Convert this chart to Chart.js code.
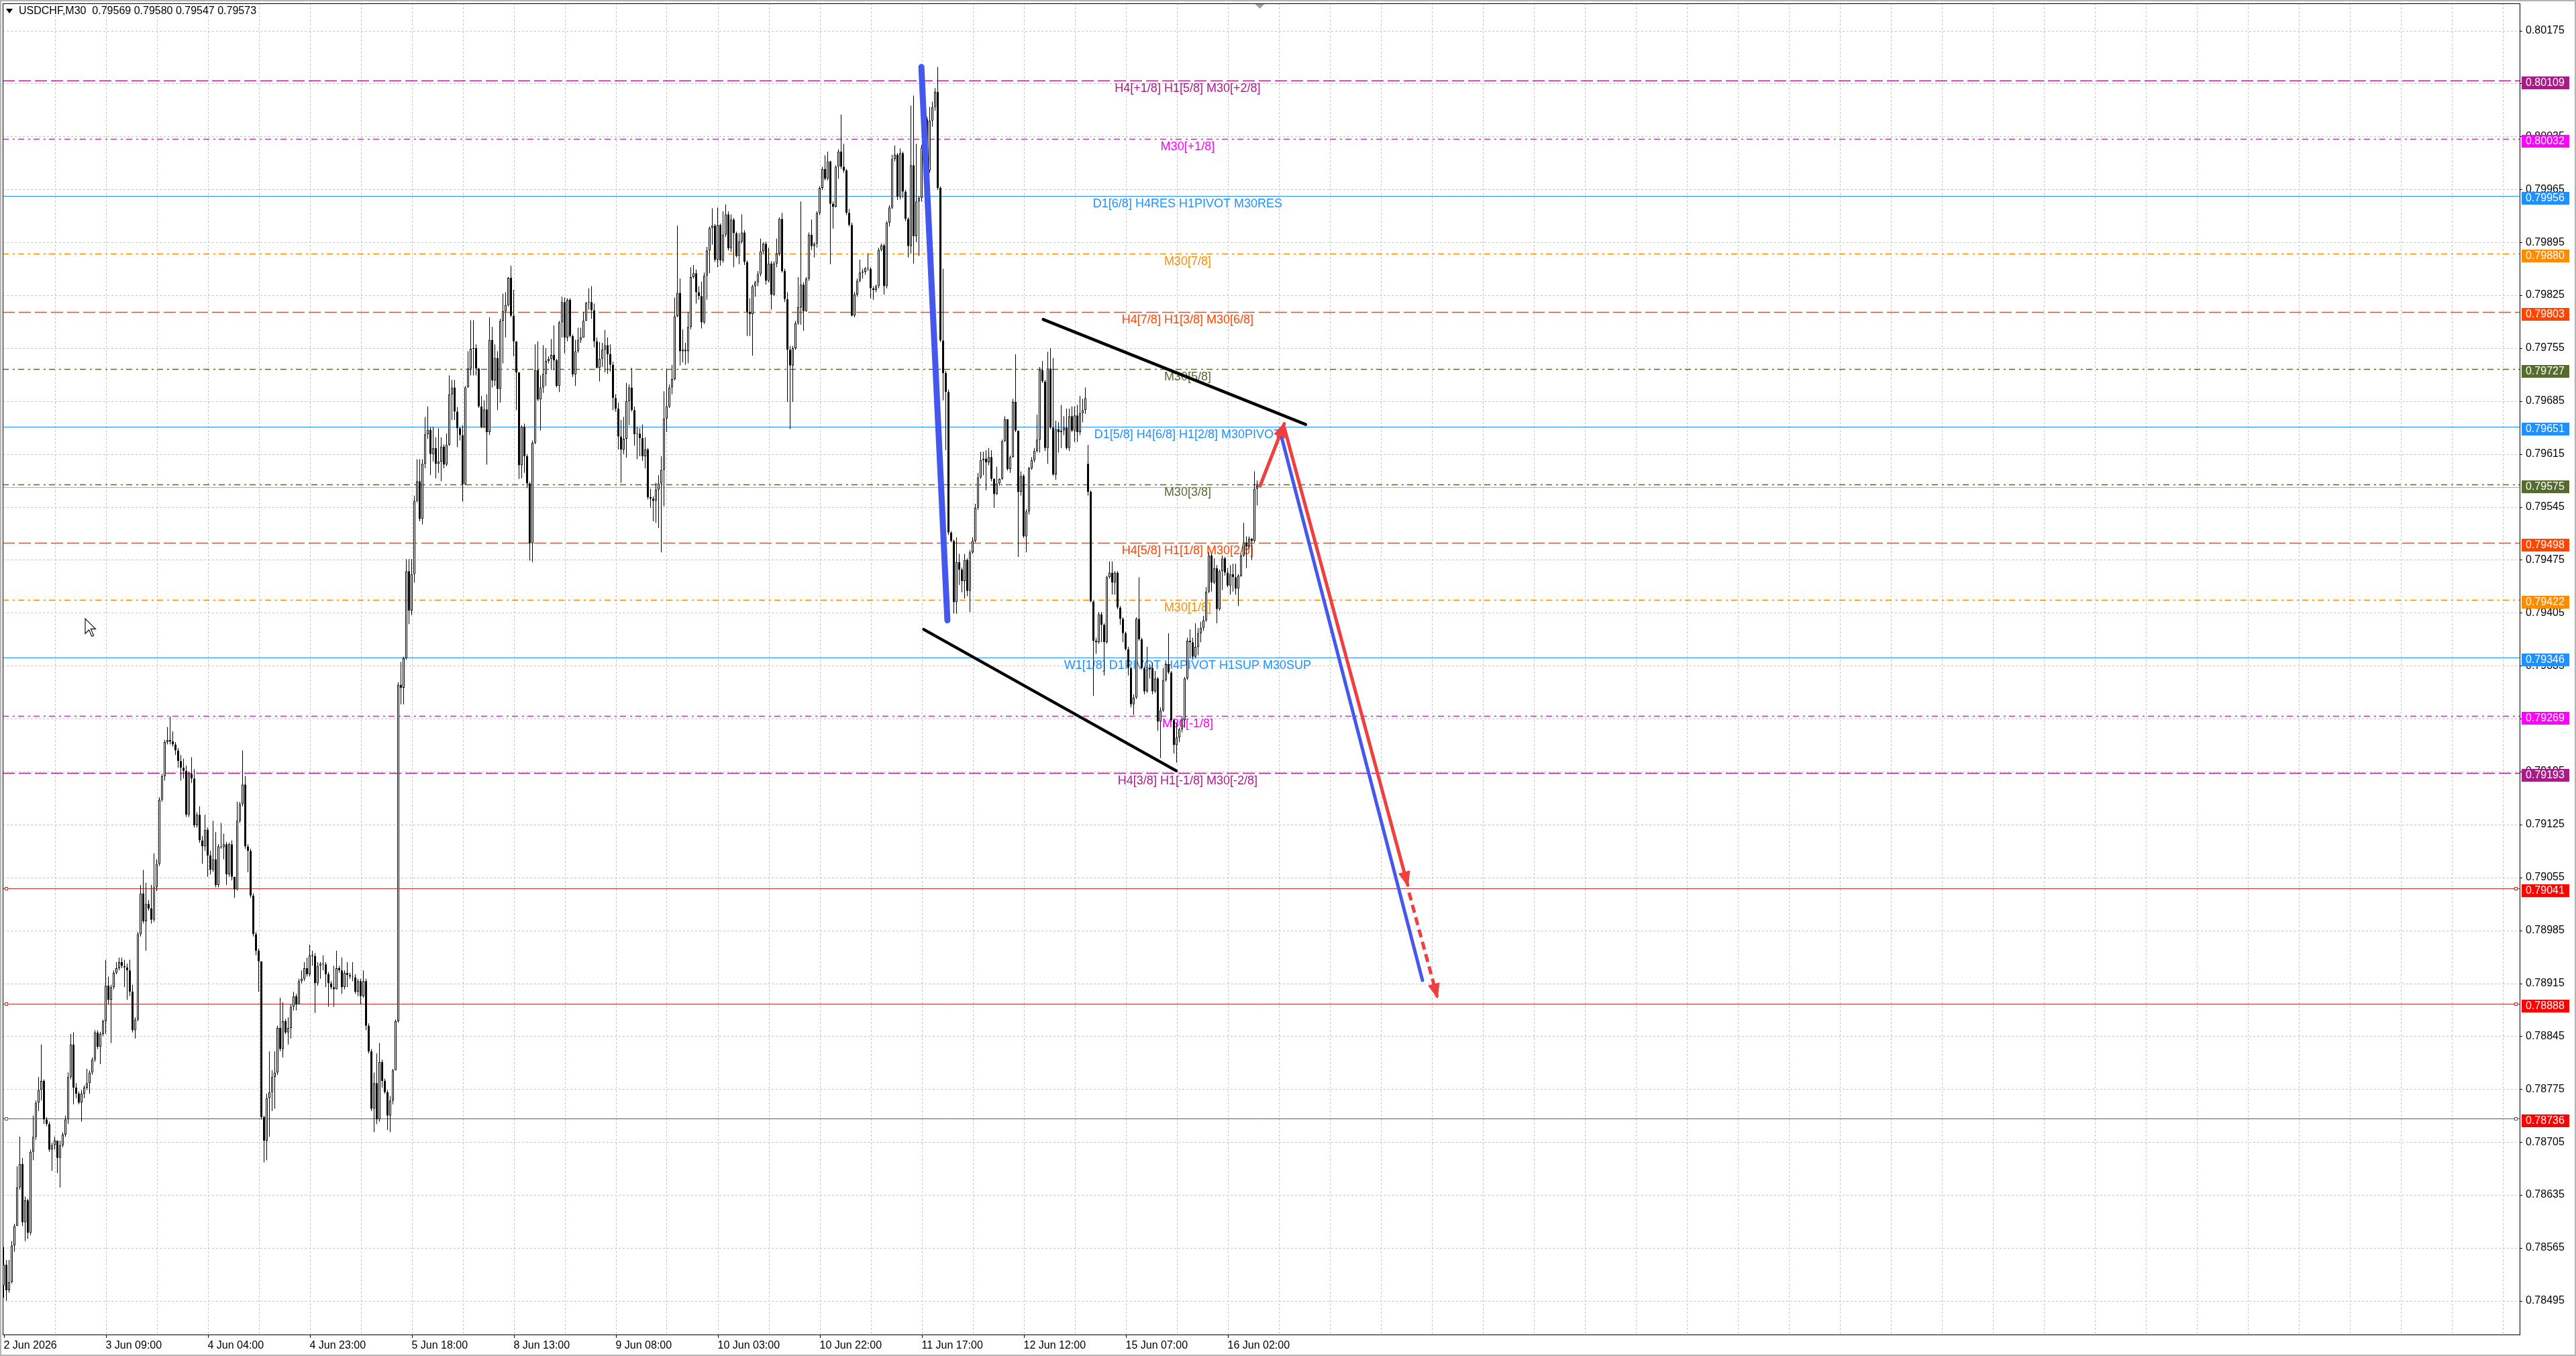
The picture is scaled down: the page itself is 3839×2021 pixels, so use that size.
<!DOCTYPE html>
<html>
<head>
<meta charset="utf-8">
<title>USDCHF,M30</title>
<script src="https://cdn.jsdelivr.net/npm/chart.js@4.4.1/dist/chart.umd.min.js"></script>
<style>
  html, body { margin: 0; padding: 0; background: #fff; overflow: hidden; }
  #chart { display: block; }
</style>
</head>
<body>
<canvas id="chart" width="3839" height="2021"></canvas>
<script>
// M30 bars, prices in points (1 point = 0.00001)
const open = [
78515,78543,78509,78520,78568,78594,78645,78676,78599,78628,
78585,78692,78712,78757,78774,78786,78735,78729,78695,78701,
78707,78684,78701,78715,78735,78791,78834,78777,78769,78757,
78769,78777,78783,78797,78814,78850,78831,78848,78865,78912,
78893,78910,78929,78935,78943,78938,78936,78932,78904,78853,
78867,78980,79034,78997,79020,79014,78999,79042,79073,79158,
79189,79234,79237,79235,79231,79223,79209,79200,79196,79138,
79192,79186,79124,79138,79104,79096,79118,79084,79065,79079,
79045,79096,79095,79099,79059,79099,79056,79039,79130,79152,
79178,79096,79090,79031,78980,78958,78944,78738,78707,78763,
78771,78791,78797,78856,78828,78865,78850,78856,78884,78898,
78887,78918,78921,78935,78927,78952,78951,78915,78938,78941,
78940,78927,78915,78910,78907,78935,78932,78910,78929,78926,
78924,78923,78904,78918,78898,78918,78859,78825,78749,78783,
78735,78811,78786,78771,78740,78760,78800,78865,79310,79306,
79345,79460,79408,79456,79553,79579,79529,79602,79641,79647,
79615,79623,79602,79605,79625,79601,79627,79694,79703,79671,
79649,79640,79575,79703,79728,79754,79755,79728,79678,79650,
79674,79644,79766,79712,79742,79701,79791,79804,79812,79848,
79798,79764,79723,79600,79651,79612,79576,79497,79630,79726,
79687,79703,79721,79738,79741,79746,79739,79705,79789,79816,
79769,79819,79771,79720,79751,79766,79769,79791,79815,79816,
79805,79764,79729,79741,79753,79759,79747,79733,79689,79675,
79638,79621,79635,79685,79703,79673,79641,79642,79636,79612,
79621,79558,79556,79553,79568,79576,79594,79662,79678,79703,
79714,79797,79828,79751,79753,79751,79783,79849,79854,79829,
79824,79789,79851,79884,79914,79917,79872,79918,79871,79905,
79932,79887,79925,79907,79877,79896,79908,79869,79803,79800,
79837,79842,79853,79883,79893,79844,79867,79826,79867,79880,
79926,79857,79820,79753,79732,79755,79788,79809,79839,79804,
79847,79905,79890,79893,79934,79967,79992,79979,80002,79946,
79942,79995,80015,79995,79990,79934,79918,79798,79826,79844,
79855,79856,79861,79860,79834,79832,79837,79885,79891,79837,
79921,79941,80005,80011,79955,80013,79962,79926,79890,79997,
79903,79949,79954,80020,80058,79990,80056,80074,80094,79967,
79765,79722,79697,79511,79500,79419,79472,79462,79447,79475,
79434,79485,79500,79544,79584,79607,79609,79604,79611,79582,
79562,79576,79582,79632,79661,79595,79611,79684,79646,79565,
79586,79506,79539,79596,79607,79619,79634,79726,79711,79623,
79728,79650,79588,79648,79644,79646,79650,79623,79665,79646,
79666,79644,79669,79673,79602,79565,79420,79368,79366,79403,
79389,79366,79452,79458,79445,79458,79412,79397,79378,79357,
79332,79284,79293,79397,79370,79332,79301,79330,79332,79301,
79318,79261,79276,79316,79337,79326,79263,79230,79240,79251,
79263,79318,79368,79366,79347,79360,79378,79385,79395,79433,
79481,79445,79464,79410,79460,79477,79458,79441,79456,79452,
79437,79454,79481,79498,79493,79503,79500,79569];

const high = [
78566,78549,78549,78574,78597,78673,78712,78684,78633,78630,
78695,78740,78760,78791,78834,78788,78738,78732,78704,78712,
78707,78707,78718,78740,78797,78848,78850,78783,78772,78774,
78780,78802,78800,78817,78853,78853,78851,78867,78946,78924,
78913,78932,78943,78949,78949,78946,78941,78946,78913,78870,
78983,79045,79065,79048,79025,79045,79087,79079,79161,79192,
79237,79254,79268,79248,79234,79226,79217,79212,79203,79195,
79214,79198,79141,79149,79110,79138,79121,79090,79130,79115,
79099,79127,79113,79102,79101,79104,79056,79155,79155,79223,
79189,79099,79093,79034,78983,78961,78944,78740,78769,78825,
78800,78825,78859,78896,78890,78868,78870,78887,78904,78901,
78921,78932,78943,78949,78966,78958,78955,78943,78943,78952,
78943,78930,78918,78938,78958,78938,78949,78932,78943,78929,
78943,78927,78921,78921,78932,78921,78862,78828,78797,78822,
78836,78814,78789,78774,78766,78802,78867,79313,79340,79347,
79476,79476,79476,79560,79608,79608,79608,79664,79678,79651,
79651,79637,79649,79637,79628,79642,79719,79713,79713,79677,
79651,79653,79705,79751,79792,79792,79760,79729,79692,79686,
79694,79796,79783,79760,79751,79794,79827,79829,79849,79864,
79832,79764,79723,79653,79655,79615,79578,79633,79760,79764,
79719,79759,79755,79744,79767,79785,79741,79791,79823,79822,
79821,79821,79773,79766,79782,79782,79803,79816,79834,79837,
79814,79769,79763,79762,79779,79769,79760,79737,79694,79683,
79660,79664,79709,79707,79729,79678,79651,79649,79654,79637,
79623,79569,79559,79577,79587,79612,79698,79728,79707,79733,
79822,79917,79847,79780,79762,79803,79862,79865,79859,79837,
79843,79855,79889,79916,79940,79919,79941,79920,79936,79945,
79936,79932,79927,79909,79907,79932,79911,79871,79821,79839,
79844,79857,79900,79895,79896,79888,79870,79870,79900,79928,
79934,79860,79829,79758,79758,79791,79849,79949,79842,79849,
79908,79925,79895,79936,79969,79995,80010,80015,80003,79949,
79997,80018,80064,80025,79992,79939,79921,79829,79847,79872,
79860,79862,79880,79862,79837,79839,79888,79893,79893,79923,
79944,80011,80023,80013,80019,80015,79964,79928,80076,80089,
80025,79956,80024,80061,80061,80074,80081,80099,80127,79969,
79860,79725,79700,79513,79502,79505,79483,79465,79483,79477,
79488,79505,79549,79590,79618,79618,79620,79623,79620,79583,
79598,79583,79634,79665,79661,79613,79688,79747,79646,79592,
79588,79542,79598,79611,79623,79667,79730,79738,79713,79750,
79755,79742,79659,79657,79680,79665,79675,79675,79678,79678,
79680,79692,79688,79703,79627,79567,79421,79372,79406,79406,
79391,79454,79473,79473,79460,79460,79414,79399,79380,79360,
79334,79297,79399,79452,79372,79334,79360,79337,79339,79328,
79320,79280,79332,79339,79378,79328,79265,79259,79253,79268,
79320,79372,79383,79372,79391,79385,79393,79401,79439,79485,
79483,79477,79468,79462,79481,79479,79464,79468,79470,79470,
79456,79483,79524,79506,79506,79504,79592,79580];

const low = [
78499,78495,78506,78518,78560,78594,78642,78594,78574,78577,
78582,78681,78708,78746,78760,78729,78726,78692,78667,78695,
78664,78645,78698,78712,78729,78788,78755,78763,78755,78732,
78763,78774,78769,78794,78811,78828,78808,78845,78848,78887,
78836,78907,78927,78932,78935,78910,78893,78898,78850,78842,
78865,78977,78994,78958,79011,78994,78996,79037,79070,79155,
79183,79231,79231,79228,79217,79200,79183,79186,79135,79135,
79180,79121,79121,79101,79073,79090,79056,79059,79062,79042,
79042,79093,79079,79045,79056,79051,79028,79038,79127,79149,
79093,79062,79028,78977,78952,78904,78735,78678,78681,78712,
78746,78749,78794,78825,78817,78848,78834,78842,78879,78879,
78887,78915,78918,78924,78924,78938,78876,78912,78921,78932,
78910,78884,78907,78884,78907,78929,78901,78907,78910,78921,
78918,78901,78898,78887,78896,78853,78822,78746,78718,78729,
78732,78777,78769,78721,78718,78755,78800,78863,79284,79284,
79343,79390,79402,79445,79551,79526,79522,79596,79635,79587,
79605,79583,79590,79579,79596,79599,79626,79660,79660,79624,
79633,79552,79574,79703,79719,79719,79719,79676,79649,79649,
79601,79640,79703,79705,79673,79683,79735,79769,79810,79796,
79744,79673,79582,79583,79590,79570,79474,79472,79628,79685,
79646,79696,79705,79735,79726,79726,79703,79697,79769,79748,
79764,79769,79717,79705,79749,79762,79769,79791,79806,79794,
79756,79728,79711,79730,79723,79721,79724,79673,79671,79621,
79577,79615,79610,79653,79671,79626,79608,79612,79606,79596,
79555,79544,79526,79524,79517,79485,79546,79644,79676,79694,
79712,79796,79732,79736,79733,79735,79780,79847,79814,79819,
79781,79787,79819,79854,79892,79869,79862,79864,79868,79902,
79884,79882,79862,79875,79866,79893,79865,79771,79771,79745,
79823,79837,79850,79880,79839,79842,79806,79824,79862,79877,
79855,79816,79684,79648,79684,79753,79786,79786,79778,79803,
79844,79885,79875,79888,79931,79964,79977,79977,79866,79913,
79941,79979,79992,79987,79931,79916,79797,79796,79823,79842,
79847,79852,79857,79821,79819,79829,79834,79883,79826,79834,
79916,79939,80002,79951,79952,79954,79923,79875,79880,79867,
79895,79877,79949,80018,79987,79987,80048,80069,79964,79763,
79686,79620,79508,79498,79404,79404,79442,79432,79424,79427,
79406,79483,79498,79541,79582,79587,79567,79600,79579,79544,
79561,79573,79581,79631,79593,79590,79610,79644,79479,79560,
79504,79485,79535,79594,79604,79617,79617,79709,79619,79602,
79648,79586,79581,79617,79623,79640,79621,79619,79644,79631,
79631,79640,79657,79668,79560,79419,79295,79351,79364,79366,
79322,79364,79450,79429,79429,79410,79389,79366,79355,79322,
79280,79270,79291,79368,79330,79297,79299,79318,79297,79299,
79249,79213,79274,79314,79324,79261,79219,79207,79234,79247,
79253,79316,79345,79343,79345,79349,79366,79381,79393,79431,
79433,79443,79391,79408,79435,79454,79439,79429,79433,79429,
79414,79452,79479,79464,79489,79475,79498,79547];

const close = [
78543,78509,78520,78568,78594,78645,78676,78599,78628,78585,
78692,78712,78757,78774,78786,78735,78729,78695,78701,78707,
78684,78701,78715,78735,78791,78834,78777,78769,78757,78769,
78777,78783,78797,78814,78850,78831,78848,78865,78912,78893,
78910,78929,78935,78943,78938,78936,78932,78904,78853,78867,
78980,79034,78997,79020,79014,78999,79042,79073,79158,79189,
79234,79237,79235,79231,79223,79209,79200,79196,79138,79192,
79186,79124,79138,79104,79096,79118,79084,79065,79079,79045,
79096,79095,79099,79059,79099,79056,79039,79130,79152,79178,
79096,79090,79031,78980,78958,78944,78738,78707,78763,78771,
78791,78797,78856,78828,78865,78850,78856,78884,78898,78887,
78918,78921,78935,78927,78952,78951,78915,78938,78941,78940,
78927,78915,78910,78907,78935,78932,78910,78929,78926,78924,
78923,78904,78918,78898,78918,78859,78825,78749,78783,78735,
78811,78786,78771,78740,78760,78800,78865,79310,79306,79345,
79460,79408,79456,79553,79579,79529,79602,79641,79647,79615,
79623,79602,79605,79625,79601,79627,79694,79703,79671,79649,
79640,79575,79703,79728,79754,79755,79728,79678,79650,79674,
79644,79766,79712,79742,79701,79791,79804,79812,79848,79798,
79764,79723,79600,79651,79612,79576,79497,79630,79726,79687,
79703,79721,79738,79741,79746,79739,79705,79789,79816,79769,
79819,79771,79720,79751,79766,79769,79791,79815,79816,79805,
79764,79729,79741,79753,79759,79747,79733,79689,79675,79638,
79621,79635,79685,79703,79673,79641,79642,79636,79612,79621,
79558,79556,79553,79568,79576,79594,79662,79678,79703,79714,
79797,79828,79751,79753,79751,79783,79849,79854,79829,79824,
79789,79851,79884,79914,79917,79872,79918,79871,79905,79932,
79887,79925,79907,79877,79896,79908,79869,79803,79800,79837,
79842,79853,79883,79893,79844,79867,79826,79867,79880,79926,
79857,79820,79753,79732,79755,79788,79809,79839,79804,79847,
79905,79890,79893,79934,79967,79992,79979,80002,79946,79942,
79995,80015,79995,79990,79934,79918,79798,79826,79844,79855,
79856,79861,79860,79834,79832,79837,79885,79891,79837,79921,
79941,80005,80011,79955,80013,79962,79926,79890,79997,79903,
79949,79954,80020,80058,79990,80056,80074,80094,79967,79765,
79722,79697,79511,79500,79419,79472,79462,79447,79475,79434,
79485,79500,79544,79584,79607,79609,79604,79611,79582,79562,
79576,79582,79632,79661,79595,79611,79684,79646,79565,79586,
79506,79539,79596,79607,79619,79634,79726,79711,79623,79728,
79650,79588,79648,79644,79646,79650,79623,79665,79646,79666,
79644,79669,79673,79689,79565,79420,79368,79366,79403,79389,
79366,79452,79458,79445,79458,79412,79397,79378,79357,79332,
79284,79293,79397,79370,79332,79301,79330,79332,79301,79318,
79261,79276,79316,79337,79326,79263,79230,79240,79251,79263,
79318,79368,79366,79347,79360,79378,79385,79395,79433,79481,
79445,79464,79410,79460,79477,79458,79441,79456,79452,79437,
79454,79481,79498,79493,79503,79500,79569,79573];

const symbol = 'USDCHF,M30';
const timeLabels = ['2 Jun 2026', '3 Jun 09:00', '4 Jun 04:00', '4 Jun 23:00', '5 Jun 18:00',
  '8 Jun 13:00', '9 Jun 08:00', '10 Jun 03:00', '10 Jun 22:00', '11 Jun 17:00',
  '12 Jun 12:00', '15 Jun 07:00', '16 Jun 02:00'];
const barsPerLabel = 38;
const yTickLabels = ['0.78495', '0.78565', '0.78635', '0.78705', '0.78775', '0.78845', '0.78915',
  '0.78985', '0.79055', '0.79125', '0.79195', '0.79265', '0.79335', '0.79405', '0.79475',
  '0.79545', '0.79615', '0.79685', '0.79755', '0.79825', '0.79895', '0.79965', '0.80035',
  '0.80105', '0.80175'];

// Murrey math levels
const levelPrices = [0.80109, 0.80032, 0.79956, 0.79880, 0.79803, 0.79727, 0.79651, 0.79575,
  0.79498, 0.79422, 0.79346, 0.79269, 0.79193, 0.79041, 0.78888, 0.78736];
const levelNames = ['H4[+1/8] H1[5/8] M30[+2/8]', 'M30[+1/8]', 'D1[6/8] H4RES H1PIVOT M30RES',
  'M30[7/8]', 'H4[7/8] H1[3/8] M30[6/8]', 'M30[5/8]', 'D1[5/8] H4[6/8] H1[2/8] M30PIVOT',
  'M30[3/8]', 'H4[5/8] H1[1/8] M30[2/8]', 'M30[1/8]', 'W1[1/8] D1PIVOT H4PIVOT H1SUP M30SUP',
  'M30[-1/8]', 'H4[3/8] H1[-1/8] M30[-2/8]', '', '', ''];
const bidPrice = 0.79573;

// hand drawn objects, [bar, price]
const dropLine = [[341.9, 0.80127], [351.6, 0.79395]];
const wedgeLow = [[342.8, 0.79383], [436.9, 0.79196]];
const wedgeHigh = [[387.3, 0.79793], [485.1, 0.79654]];
const blueTarget = [[475.4, 0.79647], [528.6, 0.78919]];
const redUp = [[468.1, 0.79573], [477.1, 0.79655]];
const redDown = [[477.1, 0.79650], [523.1, 0.79045]];
const redDash = [[523.6, 0.79035], [534.1, 0.78897]];

// styles
const DASH = [18, 6], DASHDOT = [9, 6, 3, 5], SOLID = [];
const levelColors = ['#a81c88', '#ff00ff', '#1e90ff', '#ff8c00', '#ff4500', '#556b2f', '#1e90ff',
  '#556b2f', '#ff4500', '#ff8c00', '#1e90ff', '#ff00ff', '#a81c88', '#ff0000', '#ff0000', '#ff0000'];
const levelDash = [DASH, DASHDOT, SOLID, DASHDOT, DASH, DASHDOT, SOLID, DASHDOT, DASH, DASHDOT,
  SOLID, DASHDOT, DASH, SOLID, SOLID, SOLID];
const labelBar = 441.1;
const gridStep = 19;
const axisFont = { family: 'Liberation Sans', size: 16 };
const BLUE = '#4458ee', RED = '#f03f3f';

const toXY = pts => pts.map(([x, y]) => ({ x, y }));
const fmt = v => (v / 1e5).toFixed(5);
const last = close.length - 1;

function seg(ctx, x0, y0, x1, y1) {
  ctx.beginPath(); ctx.moveTo(x0, y0); ctx.lineTo(x1, y1); ctx.stroke();
}

function arrowHead(ctx, a, b, color) {
  const ang = Math.atan2(b.y - a.y, b.x - a.x);
  ctx.save();
  ctx.translate(b.x, b.y);
  ctx.rotate(ang);
  ctx.beginPath();
  ctx.moveTo(3, 0); ctx.lineTo(-20, -9); ctx.lineTo(-20, 9); ctx.closePath();
  ctx.fillStyle = color; ctx.fill();
  ctx.restore();
}

const mt4 = {
  id: 'mt4',
  beforeDraw(chart) {
    const { ctx, width, height } = chart;
    ctx.save();
    ctx.fillStyle = '#fff'; ctx.fillRect(0, 0, width, height);
    ctx.strokeStyle = '#b4b4b4'; ctx.lineWidth = 2;
    ctx.strokeRect(1, 1, width - 2, height - 2);
    ctx.restore();
  },
  beforeDatasetsDraw(chart) {
    const { ctx, chartArea: a, scales: { x, y } } = chart;
    ctx.save();
    // grid
    ctx.strokeStyle = '#c4c4c4'; ctx.lineWidth = 1; ctx.setLineDash([3, 3]);
    for (let b = gridStep; ; b += gridStep) {
      const px = Math.round(x.getPixelForValue(b)) + 0.5;
      if (px >= a.right - 1) break;
      seg(ctx, px, a.top, px, a.bottom);
    }
    yTickLabels.forEach(t => {
      const py = Math.round(y.getPixelForValue(parseFloat(t))) + 0.5;
      seg(ctx, a.left, py, a.right, py);
    });
    // bid line
    ctx.setLineDash([]);
    ctx.strokeStyle = '#b0b0b0';
    const by = Math.round(y.getPixelForValue(bidPrice)) + 2.5;
    seg(ctx, a.left, by, a.right, by);
    // levels
    levelPrices.forEach((p, k) => {
      const solid = levelDash[k].length === 0;
      const py = Math.round(y.getPixelForValue(p)) + 0.5;
      ctx.setLineDash(levelDash[k]);
      ctx.lineWidth = solid ? 1 : 1.5;
      ctx.strokeStyle = levelColors[k] === '#ff0000' ? '#d42a2a' : levelColors[k];
      seg(ctx, a.left, py, a.right, py);
      if (levelNames[k]) {
        ctx.fillStyle = levelColors[k];
        ctx.font = '18px "Liberation Sans"';
        ctx.textAlign = 'center'; ctx.textBaseline = 'top';
        ctx.fillText(levelNames[k], x.getPixelForValue(labelBar), py + 2.5);
      }
    });
    ctx.restore();
  },
  afterDatasetsDraw(chart) {
    const { ctx, chartArea: a, scales: { x, y } } = chart;
    ctx.save();
    // arrow heads
    chart.data.datasets.forEach((ds, i) => {
      if (!ds.arrowHead) return;
      const pts = chart.getDatasetMeta(i).data;
      arrowHead(ctx, pts[0], pts[1], ds.borderColor);
    });
    // red level end markers
    ctx.setLineDash([]);
    ctx.lineWidth = 1;
    levelPrices.forEach((p, k) => {
      if (levelColors[k] !== '#ff0000') return;
      const py = Math.round(y.getPixelForValue(p));
      ctx.fillStyle = '#fff'; ctx.strokeStyle = '#d42a2a';
      [a.left + 3, a.right - 8].forEach(sx => {
        ctx.fillRect(sx, py - 2, 5, 5);
        ctx.strokeRect(sx + 0.5, py - 1.5, 4, 4);
      });
    });
    // frame
    ctx.strokeStyle = '#000'; ctx.lineWidth = 1;
    ctx.strokeRect(Math.floor(a.left) + 0.5, Math.floor(a.top) + 0.5, a.right - a.left, a.bottom - a.top);
    // tick marks
    yTickLabels.forEach(t => {
      const py = Math.round(y.getPixelForValue(parseFloat(t))) + 0.5;
      seg(ctx, a.right, py, a.right + 4, py);
    });
    timeLabels.forEach((t, k) => {
      const px = Math.round(x.getPixelForValue(k * barsPerLabel)) + 0.5;
      seg(ctx, px, a.bottom, px, a.bottom + 5);
    });
    // price boxes on the axis
    ctx.font = '16px "Liberation Sans"';
    ctx.textAlign = 'left'; ctx.textBaseline = 'middle';
    levelPrices.forEach((p, k) => {
      const py = Math.round(y.getPixelForValue(p));
      ctx.fillStyle = levelColors[k];
      ctx.fillRect(a.right + 3, py - 6, 71, 19);
      ctx.fillStyle = '#fff';
      ctx.fillText(p.toFixed(5), a.right + 9, py + 4);
    });
    // title
    ctx.fillStyle = '#000';
    ctx.beginPath(); ctx.moveTo(9, 13); ctx.lineTo(19, 13); ctx.lineTo(14, 20); ctx.closePath(); ctx.fill();
    ctx.fillText(symbol + '  ' + [open[last], high[last], low[last], close[last]].map(fmt).join(' '), 28, 17);
    // chart shift marker
    const sx = x.getPixelForValue(last) + 4;
    ctx.fillStyle = '#a0a0a0';
    ctx.beginPath(); ctx.moveTo(sx - 7, a.top + 1); ctx.lineTo(sx + 7, a.top + 1); ctx.lineTo(sx, a.top + 8); ctx.closePath(); ctx.fill();
    // mouse pointer
    ctx.translate(127, 922); ctx.scale(1.4, 1.4);
    ctx.beginPath();
    ctx.moveTo(0, 0); ctx.lineTo(0, 16); ctx.lineTo(4, 12); ctx.lineTo(7, 19); ctx.lineTo(9, 18);
    ctx.lineTo(6, 11); ctx.lineTo(11, 11); ctx.closePath();
    ctx.fillStyle = '#fff'; ctx.fill(); ctx.strokeStyle = '#000'; ctx.lineWidth = 0.8; ctx.stroke();
    ctx.restore();
  }
};

const lineBase = { type: 'line', pointRadius: 0, borderCapStyle: 'round', tension: 0, fill: false, order: 0 };

new Chart(document.getElementById('chart'), {
  type: 'bar',
  data: {
    datasets: [
      { ...lineBase, data: toXY(wedgeLow), borderColor: '#000', borderWidth: 4.5 },
      { ...lineBase, data: toXY(wedgeHigh), borderColor: '#000', borderWidth: 4.5 },
      { ...lineBase, data: toXY(dropLine), borderColor: BLUE, borderWidth: 9 },
      { ...lineBase, data: toXY(blueTarget), borderColor: BLUE, borderWidth: 5 },
      { ...lineBase, data: toXY(redUp), borderColor: RED, borderWidth: 5, arrowHead: true },
      { ...lineBase, data: toXY(redDown), borderColor: RED, borderWidth: 5, arrowHead: true },
      { ...lineBase, data: toXY(redDash), borderColor: RED, borderWidth: 5, borderCapStyle: 'butt', borderDash: [12, 7], arrowHead: true },
      {
        label: 'body',
        data: open.map((o, i) => ({ x: i, y: [o / 1e5, close[i] / 1e5] })),
        backgroundColor: open.map((o, i) => close[i] >= o ? '#ffffff' : '#000000'),
        borderColor: '#000', borderWidth: 1, borderSkipped: false,
        barThickness: 3, minBarLength: 1, grouped: false, inflateAmount: 0, order: 1
      },
      {
        label: 'wick',
        data: low.map((l, i) => ({ x: i, y: [l / 1e5, high[i] / 1e5] })),
        backgroundColor: '#000', borderWidth: 0,
        barThickness: 1, grouped: false, inflateAmount: 0, order: 2
      }
    ]
  },
  options: {
    responsive: false,
    maintainAspectRatio: false,
    devicePixelRatio: 1,
    animation: false,
    events: [],
    layout: { padding: { left: 4, top: 5, right: 0, bottom: 0 } },
    plugins: { legend: { display: false }, tooltip: { enabled: false } },
    scales: {
      x: {
        type: 'linear', position: 'bottom', offset: false,
        min: -0.375, max: 937.375,
        grid: { display: false, drawTicks: false },
        border: { display: false },
        ticks: {
          autoSkip: false, maxRotation: 0, align: 'start', padding: 7,
          color: '#000', font: axisFont,
          callback: (v, i) => timeLabels[i]
        },
        afterBuildTicks: s => { s.ticks = timeLabels.map((t, k) => ({ value: k * barsPerLabel })); },
        afterFit: s => { s.height = 32; s.paddingLeft = 0; s.paddingRight = 0; }
      },
      y: {
        type: 'linear', position: 'right',
        min: 0.784505, max: 0.80211,
        grid: { display: false, drawTicks: false },
        border: { display: false },
        ticks: {
          autoSkip: false, padding: 9, color: '#000', font: axisFont,
          callback: (v, i) => yTickLabels[i]
        },
        afterBuildTicks: s => { s.ticks = yTickLabels.map(t => ({ value: parseFloat(t) })); },
        afterFit: s => { s.width = 84; s.paddingTop = 0; s.paddingBottom = 0; }
      }
    }
  },
  plugins: [mt4]
});
</script>
</body>
</html>
